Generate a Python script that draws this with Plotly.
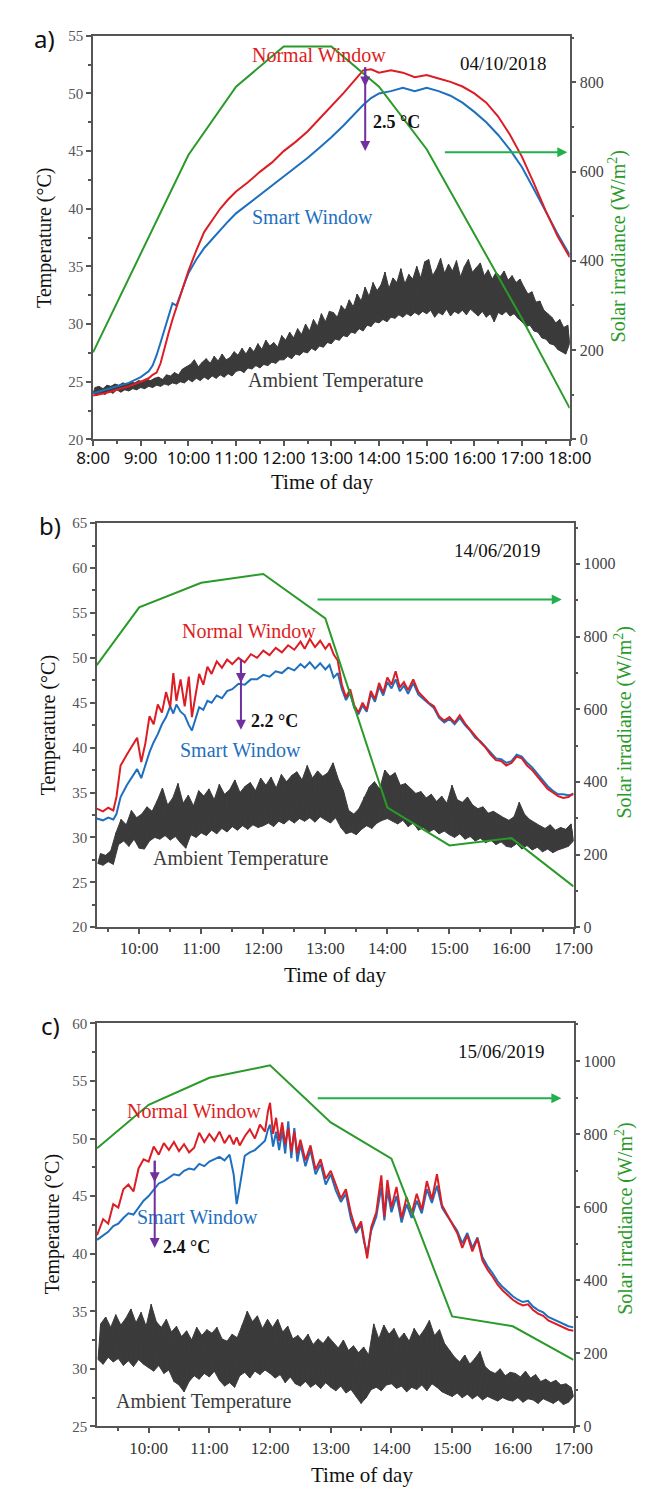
import plotly.graph_objects as go

# ---------------- DATA ----------------
# Panel a) 04/10/2018
a_date = "04/10/2018"
a_xticks = ["8:00", "9:00", "10:00", "11:00", "12:00", "13:00", "14:00", "15:00", "16:00", "17:00", "18:00"]
a_time = ["08:00", "08:15", "08:30", "08:45", "09:00", "09:10", "09:15", "09:20", "09:25", "09:30",
          "09:35", "09:40", "09:45", "09:50", "09:55", "10:00", "10:10", "10:20", "10:30", "10:40",
          "10:50", "11:00", "11:15", "11:30", "11:45", "12:00", "12:15", "12:30", "12:45", "13:00",
          "13:15", "13:30", "13:40", "13:50", "14:00", "14:15", "14:30", "14:45", "15:00", "15:15",
          "15:30", "15:45", "16:00", "16:15", "16:30", "16:45", "17:00", "17:15", "17:30", "17:45", "18:00"]
a_normal = [23.8, 24.0, 24.3, 24.6, 25.0, 25.3, 25.6, 25.8, 26.6, 28.0,
            29.2, 30.4, 31.5, 32.6, 33.6, 34.6, 36.4, 38.0, 39.0, 40.0,
            40.8, 41.5, 42.3, 43.2, 44.0, 45.0, 45.8, 46.7, 47.8, 48.9,
            50.0, 51.2, 52.0, 52.1, 51.8, 52.0, 51.8, 51.4, 51.6, 51.3,
            51.0, 50.6, 50.0, 49.2, 48.0, 46.4, 44.5, 42.2, 39.8, 37.6, 35.8]
a_smart = [24.0, 24.3, 24.6, 24.9, 25.4, 25.9, 26.4, 27.3, 28.4, 29.5,
           30.6, 31.8, 31.6, 32.6, 33.5, 34.4, 35.6, 36.6, 37.4, 38.2,
           38.9, 39.6, 40.4, 41.2, 42.0, 42.8, 43.6, 44.4, 45.3, 46.2,
           47.2, 48.3, 49.0, 49.6, 50.0, 50.2, 50.5, 50.2, 50.5, 50.2,
           49.8, 49.2, 48.4, 47.5, 46.4, 45.1, 43.6, 41.7, 39.7, 37.8, 36.0]
# ambient: readings every 2.5 minutes, alternating low / high (one row per hour)
a_amb_start = "08:00"
a_ambient = [
    24.0, 24.5, 23.8, 24.6, 24.1, 24.4, 23.9, 24.7, 24.2, 24.6, 24.0, 24.8,
    24.3, 24.7, 24.1, 24.9, 24.3, 24.8, 24.2, 25.0, 24.4, 24.9, 24.3, 25.1,
    24.5, 25.0, 24.4, 25.2, 24.6, 25.1, 24.5, 25.3, 24.7, 25.4, 24.6, 25.2,
    24.8, 25.6, 24.7, 25.5, 24.9, 25.8, 24.8, 25.6, 25.0, 26.1, 24.9, 26.3,
    25.2, 26.5, 25.0, 26.9, 25.3, 26.3, 25.1, 26.7, 25.4, 27.0, 25.2, 26.6,
    25.5, 27.2, 25.3, 26.8, 25.6, 27.4, 25.4, 26.9, 25.7, 27.1, 25.5, 27.6,
    25.9, 27.3, 26.0, 27.9, 25.8, 27.4, 26.2, 28.0, 26.1, 27.6, 26.4, 28.3,
    26.2, 27.8, 26.5, 28.6, 26.4, 28.1, 26.7, 28.4, 26.6, 28.0, 26.9, 29.0,
    26.9, 28.6, 27.2, 29.3, 27.0, 28.8, 27.4, 29.6, 27.3, 29.1, 27.6, 30.0,
    27.5, 29.4, 27.9, 30.4, 27.7, 29.8, 28.1, 30.9, 28.0, 30.2, 28.4, 31.1,
    28.3, 31.0, 28.7, 30.6, 28.6, 31.6, 29.0, 31.2, 28.9, 32.1, 29.3, 31.5,
    29.2, 32.6, 29.6, 32.0, 29.4, 33.2, 29.9, 32.4, 29.8, 33.6, 30.2, 32.9,
    30.1, 33.4, 30.4, 34.5, 30.2, 33.1, 30.6, 34.0, 30.5, 33.6, 30.8, 34.8,
    30.6, 33.5, 30.9, 34.3, 30.7, 33.9, 31.0, 35.0, 30.8, 34.0, 31.1, 35.4,
    30.9, 35.6, 31.2, 34.2, 30.6, 34.8, 31.0, 35.7, 30.8, 34.4, 31.3, 35.2,
    30.7, 34.6, 31.1, 35.5, 30.9, 34.1, 31.2, 35.0, 30.8, 35.6, 31.3, 34.5,
    31.0, 34.9, 30.7, 35.3, 31.1, 34.2, 30.6, 34.7, 30.9, 33.9, 30.2, 34.5,
    31.0, 34.1, 30.8, 34.6, 31.1, 33.8, 30.7, 34.2, 30.9, 33.6, 30.5, 33.9,
    30.2, 33.2, 29.8, 32.6, 29.9, 32.8, 29.4, 31.9, 29.3, 32.0, 28.8, 31.2,
    28.7, 30.9, 28.3, 30.6, 28.2, 30.1, 27.8, 30.4, 27.6, 29.7, 27.4, 29.9,
    28.3]
a_solar_time = ["08:00", "09:00", "10:00", "11:00", "12:00", "13:00", "14:00", "15:00", "16:00", "17:00", "18:00"]
a_solar = [195, 416, 637, 790, 880, 880, 790, 650, 460, 270, 70]

# Panel b) 14/06/2019
b_date = "14/06/2019"
b_xticks = ["10:00", "11:00", "12:00", "13:00", "14:00", "15:00", "16:00", "17:00"]
b_time = ["09:19", "09:25", "09:30", "09:35", "09:38", "09:42", "09:48", "09:54", "09:58", "10:02",
          "10:06", "10:10", "10:14", "10:18", "10:22", "10:26", "10:30", "10:33", "10:36", "10:40",
          "10:44", "10:48", "10:51", "10:54", "10:58", "11:02", "11:06", "11:10", "11:15", "11:20",
          "11:25", "11:30", "11:36", "11:42", "11:48", "11:54", "12:00", "12:06", "12:12", "12:18",
          "12:24", "12:30", "12:36", "12:40", "12:45", "12:50", "12:55", "13:00", "13:04", "13:08",
          "13:12", "13:16", "13:20", "13:24", "13:28", "13:32", "13:36", "13:40", "13:44", "13:48",
          "13:52", "13:56", "14:00", "14:04", "14:08", "14:12", "14:16", "14:20", "14:25", "14:30",
          "14:35", "14:40", "14:45", "14:50", "14:55", "15:00", "15:05", "15:10", "15:15", "15:20",
          "15:25", "15:30", "15:35", "15:40", "15:45", "15:50", "15:55", "16:00", "16:05", "16:10",
          "16:15", "16:20", "16:25", "16:30", "16:35", "16:40", "16:45", "16:50", "16:55", "17:00"]
b_normal = [33.2, 32.9, 33.3, 33.0, 34.5, 38.0, 39.2, 40.3, 41.1, 38.4,
            40.5, 43.5, 42.6, 44.8, 43.9, 46.2, 44.5, 48.3, 45.2, 47.6,
            44.6, 47.9, 43.4, 45.5, 48.2, 47.0, 49.0, 48.2, 49.6, 48.9,
            49.8, 49.3, 50.0, 49.5, 50.4, 50.0, 50.8, 50.3, 51.1, 50.6,
            51.4, 50.9, 51.8, 51.0, 52.1, 51.2, 51.9, 51.0, 51.6, 50.4,
            49.7, 47.0, 45.6, 46.5, 44.7, 43.9, 45.0, 44.2, 46.3, 45.4,
            47.2, 46.1, 47.8, 47.0, 48.5, 46.7, 47.3, 46.4, 47.6, 46.2,
            45.6, 45.0, 44.6, 43.5, 43.0, 43.4, 42.8, 43.6, 42.7, 42.0,
            41.2, 40.6, 40.0, 39.2, 38.6, 38.5, 38.0, 38.3, 39.0, 38.8,
            38.0, 37.5, 36.8, 36.1, 35.4, 35.0, 34.6, 34.4, 34.5, 34.9]
b_smart = [32.1, 31.9, 32.2, 32.0, 32.6, 34.5, 35.8, 36.8, 37.6, 36.6,
           38.0, 39.5, 40.6, 41.5, 42.6, 43.4, 44.6, 43.8, 44.8, 44.0,
           43.6, 42.5, 41.9, 43.0, 44.5, 44.2, 45.2, 45.0, 45.8, 45.5,
           46.3, 46.5, 47.1, 47.0, 47.6, 47.6, 48.1, 47.9, 48.5, 48.3,
           48.9, 48.6, 49.3, 48.9, 49.5, 48.8, 49.4, 48.7, 49.2, 47.8,
           48.3, 46.5, 45.3, 46.1, 44.4, 43.7, 44.7, 44.0, 46.0, 45.1,
           46.8, 45.8, 47.3, 46.6, 47.6, 46.3, 46.9, 46.0, 47.2, 45.9,
           45.4, 44.8, 44.4, 43.3, 42.8, 43.2, 42.6, 43.3, 42.5, 41.9,
           41.1, 40.7, 40.1, 39.4, 38.8, 38.7, 38.3, 38.5, 39.2, 39.0,
           38.3, 37.8, 37.1, 36.4, 35.7, 35.2, 34.8, 34.8, 34.7, 34.8]
b_amb_start = "09:20"
b_ambient = [
    27.1, 28.2, 26.9, 28.0, 27.3, 28.5, 27.0, 30.5,
    29.2, 32.0, 29.6, 31.4, 29.0, 33.0, 29.8, 32.2,
    28.8, 32.6, 28.7, 33.4, 29.6, 32.9, 30.0, 34.1, 29.8, 35.5, 30.2, 33.6,
    29.7, 34.4, 30.1, 36.0, 29.4, 33.8, 28.8, 34.7, 30.3, 33.5, 30.0, 35.2,
    30.5, 34.6, 30.2, 35.4, 30.8, 34.2, 30.4, 35.9, 31.0, 34.8, 30.6, 35.3,
    31.2, 36.4, 30.8, 35.0, 31.3, 35.7, 30.9, 36.1, 31.4, 35.2, 31.1, 36.6,
    31.3, 35.8, 31.6, 36.7, 31.2, 35.5, 31.8, 37.0, 31.5, 36.2, 32.0, 36.9,
    31.6, 37.3, 32.1, 36.4, 31.8, 38.0, 32.2, 36.6, 31.7, 37.4, 32.3, 36.8,
    32.0, 37.2, 31.6, 38.3, 32.2, 36.5, 31.1, 35.2, 30.4, 33.0, 30.6, 32.6,
    30.3, 33.2, 30.9, 34.5, 31.3, 35.6, 31.0, 36.2, 31.6, 35.4, 31.9, 37.5,
    32.1, 36.8, 31.8, 37.2, 31.5, 35.8, 31.9, 36.0, 31.2, 35.4, 31.6, 34.9,
    30.8, 35.1, 31.1, 34.4, 30.6, 34.8, 30.9, 34.0, 30.4, 34.6, 30.7, 33.8,
    30.3, 35.8, 30.0, 34.2, 30.4, 33.9, 29.8, 34.5, 30.1, 33.6, 29.6, 33.2,
    29.9, 33.4, 29.4, 32.7, 29.7, 32.9, 29.2, 32.5, 29.5, 32.2, 29.0, 31.9,
    28.9, 32.3, 29.3, 33.9, 28.7, 32.6, 29.1, 32.0, 28.6, 31.6, 28.9, 31.3,
    28.4, 31.0, 28.7, 31.4, 28.3, 30.8, 28.6, 31.1, 28.8, 30.9, 29.0, 31.5,
    29.6]
b_solar_time = ["09:19", "10:00", "11:00", "12:00", "13:00", "14:00", "15:00", "16:00", "17:00"]
b_solar = [721, 880, 948, 972, 850, 329, 225, 245, 112]

# Panel c) 15/06/2019
c_date = "15/06/2019"
c_xticks = ["10:00", "11:00", "12:00", "13:00", "14:00", "15:00", "16:00", "17:00"]
c_time = ["09:09", "09:15", "09:20", "09:25", "09:30", "09:35", "09:40", "09:45", "09:50", "09:55",
          "10:00", "10:05", "10:10", "10:15", "10:20", "10:25", "10:30", "10:35", "10:40", "10:45",
          "10:50", "10:55", "11:00", "11:05", "11:10", "11:15", "11:20", "11:24", "11:27", "11:30",
          "11:35", "11:40", "11:45", "11:50", "11:55", "11:58", "12:00", "12:03", "12:06", "12:09",
          "12:12", "12:15", "12:18", "12:21", "12:24", "12:27", "12:30", "12:35", "12:40", "12:45",
          "12:50", "12:55", "13:00", "13:05", "13:10", "13:15", "13:20", "13:25", "13:30", "13:33",
          "13:36", "13:40", "13:45", "13:50", "13:53", "13:56", "14:00", "14:05", "14:10", "14:15",
          "14:20", "14:25", "14:30", "14:35", "14:40", "14:45", "14:50", "14:55", "15:00", "15:05",
          "15:10", "15:15", "15:20", "15:25", "15:30", "15:35", "15:40", "15:45", "15:50", "15:55",
          "16:00", "16:05", "16:10", "16:15", "16:20", "16:25", "16:30", "16:35", "16:40", "16:45",
          "16:50", "16:55", "17:00"]
c_normal = [41.6, 43.0, 42.6, 44.3, 44.0, 45.6, 46.0, 45.4, 47.4, 48.2,
            48.0, 49.3, 48.6, 49.6, 49.0, 49.7, 48.9, 49.5, 48.8, 49.2,
            50.5, 49.7, 50.4, 49.8, 50.6, 49.6, 50.3, 49.5, 50.1, 49.4,
            50.2, 50.8, 50.0, 51.2, 50.6, 52.4, 53.1, 50.4, 51.8, 49.8,
            51.4, 49.5, 50.9, 48.9, 50.6, 48.7, 49.9, 48.1, 49.4, 47.3,
            48.2, 46.5, 47.2, 46.0, 44.8, 45.6, 43.5, 42.0, 42.8, 41.2,
            39.6, 42.3, 43.6, 46.8, 43.2, 46.4, 44.0, 45.8, 43.1, 44.9,
            43.5, 45.2, 43.8, 46.3, 44.7, 46.9, 44.2, 43.4, 42.6, 41.8,
            40.5, 41.6, 40.2, 41.3, 39.4, 38.6, 38.0, 37.3, 36.8, 36.4,
            36.0, 35.7, 35.5, 35.6, 35.1, 34.8, 34.6, 34.2, 34.0, 33.8,
            33.6, 33.4, 33.3]
c_smart = [41.2, 41.6, 41.9, 42.4, 42.6, 43.1, 43.5, 43.4, 44.0, 44.6,
           45.0, 45.6, 46.1, 46.3, 46.6, 46.9, 46.8, 47.2, 47.4, 47.3,
           47.8, 47.6, 48.0, 48.2, 48.4, 48.1, 48.6, 46.9, 44.3, 45.8,
           48.5, 48.8, 49.0, 49.4, 49.8, 50.8, 51.2, 49.3, 50.6, 49.0,
           50.7, 48.7, 51.5, 48.3, 50.9, 48.0, 49.5, 47.6, 49.0, 46.9,
           47.8, 46.0, 46.9, 45.5, 44.5, 45.2, 43.0, 41.8, 42.5, 41.0,
           40.0, 42.0, 43.2, 45.8, 42.9, 45.5, 43.6, 45.0, 42.7, 44.3,
           43.1, 44.6, 43.5, 45.6, 44.4, 45.9, 44.0, 43.3, 42.7, 42.0,
           40.9, 41.8, 40.5, 41.4, 39.7, 38.9, 38.3, 37.6, 37.1, 36.7,
           36.3, 36.0, 35.8, 35.9, 35.4, 35.1, 34.9, 34.5, 34.3, 34.1,
           33.9, 33.7, 33.6]
c_amb_start = "09:10"
c_ambient = [
    30.8, 33.9, 30.4, 34.5, 31.0, 33.6, 30.6, 34.7, 30.9, 33.8,
    30.3, 34.4, 30.7, 35.2, 30.2, 34.0, 30.8, 34.9, 30.4, 33.7,
    30.1, 35.6, 29.8, 34.1, 30.3, 33.6, 29.6, 34.3, 29.9, 33.2, 28.9, 33.7,
    28.6, 32.8, 28.0, 33.3, 28.9, 32.5, 29.4, 33.6, 29.1, 32.9, 29.6, 33.4,
    29.3, 33.1, 29.8, 33.6, 29.0, 32.6, 28.5, 32.4, 28.8, 33.0, 28.4, 32.7,
    29.4, 33.8, 29.7, 35.0, 29.2, 34.1, 29.8, 34.6, 29.5, 33.5, 29.9, 34.3,
    29.6, 33.6, 29.2, 34.3, 29.5, 33.2, 28.8, 33.7, 29.3, 32.6, 28.7, 32.9,
    28.5, 32.4, 28.9, 33.0, 28.4, 32.1, 28.7, 32.6, 28.3, 32.2, 28.8, 32.8,
    28.4, 32.3, 28.1, 31.8, 28.5, 32.5, 27.9, 31.6, 28.2, 32.0, 27.6, 31.4,
    27.0, 31.9, 27.5, 31.2, 28.2, 33.9, 28.4, 32.6, 28.1, 33.8, 28.6, 33.0,
    28.7, 33.5, 28.3, 32.6, 28.5, 33.1, 28.0, 32.4, 28.4, 33.5, 28.2, 32.8,
    28.6, 33.4, 28.1, 34.2, 28.7, 32.9, 28.4, 33.4, 28.0, 32.2, 27.8, 31.6,
    27.6, 31.0, 27.9, 30.6, 27.5, 31.2, 27.8, 30.4, 27.4, 30.9, 27.7, 31.5,
    27.3, 30.2, 27.6, 29.8, 27.4, 29.6, 27.2, 30.0, 27.5, 29.4, 27.3, 29.7,
    27.2, 29.6, 27.5, 29.3, 27.1, 29.8, 27.4, 29.2, 27.3, 29.5, 27.0, 28.9,
    27.4, 29.1, 27.2, 28.8, 27.0, 29.0, 27.3, 28.6, 26.9, 28.7, 27.1, 28.4,
    27.6]
c_solar_time = ["09:09", "10:00", "11:00", "12:00", "13:00", "14:00", "15:00", "16:00", "17:00"]
c_solar = [761, 880, 954, 988, 832, 733, 301, 274, 182]

AMB_STEP_MIN = 2.5

# ---------------- HELPERS ----------------
def hrs(s):
    h, m = s.split(":")
    return int(h) + int(m) / 60.0

def amb_times(start, n):
    t0 = hrs(start)
    return [t0 + i * AMB_STEP_MIN / 60.0 for i in range(n)]

W, H = 649, 1489
def fx(p):
    return p / W
def fy(p):
    return 1 - p / H

RED = "#dc1e24"
BLUE = "#1f6fbf"
GREY = "#3b3b3b"
GREEN = "#2a9a2a"
ARROW_GREEN = "#22b04c"
PURPLE = "#7030a0"
AX = "#555555"
SERIF = "Liberation Serif"

fig = go.Figure()

panels = [
    dict(xa="x", ya="y", ya2="y2", time=a_time, normal=a_normal, smart=a_smart,
         amb=a_ambient, amb_start=a_amb_start, st=a_solar_time, sv=a_solar),
    dict(xa="x2", ya="y3", ya2="y4", time=b_time, normal=b_normal, smart=b_smart,
         amb=b_ambient, amb_start=b_amb_start, st=b_solar_time, sv=b_solar),
    dict(xa="x3", ya="y5", ya2="y6", time=c_time, normal=c_normal, smart=c_smart,
         amb=c_ambient, amb_start=c_amb_start, st=c_solar_time, sv=c_solar),
]

for p in panels:
    at = amb_times(p["amb_start"], len(p["amb"]))
    av = p["amb"]
    # band outline: high readings left->right, then low readings right->left
    hi_t, hi_v = at[1::2], av[1::2]
    lo_t, lo_v = at[0::2], av[0::2]
    fig.add_trace(go.Scatter(x=hi_t + lo_t[::-1], y=hi_v + lo_v[::-1], mode="lines",
                             fill="toself", fillcolor=GREY, line=dict(color=GREY, width=1),
                             xaxis=p["xa"], yaxis=p["ya"], name="Ambient Temperature"))
    fig.add_trace(go.Scatter(x=at, y=av, mode="lines", line=dict(color=GREY, width=1),
                             xaxis=p["xa"], yaxis=p["ya"], name="Ambient Temperature"))
    tt = [hrs(s) for s in p["time"]]
    fig.add_trace(go.Scatter(x=tt, y=p["smart"], mode="lines", line=dict(color=BLUE, width=2),
                             xaxis=p["xa"], yaxis=p["ya"], name="Smart Window"))
    fig.add_trace(go.Scatter(x=tt, y=p["normal"], mode="lines", line=dict(color=RED, width=2),
                             xaxis=p["xa"], yaxis=p["ya"], name="Normal Window"))
    fig.add_trace(go.Scatter(x=[hrs(s) for s in p["st"]], y=p["sv"], mode="lines",
                             line=dict(color=GREEN, width=2), xaxis=p["xa"], yaxis=p["ya2"],
                             name="Solar irradiance"))

def xaxis_cfg(dom, rng, ticks, font, standoff):
    vals = [hrs(t) for t in ticks]
    minor = [v - 0.5 for v in vals if v - 0.5 >= rng[0]]
    return dict(domain=dom, range=rng, tickmode="array", tickvals=vals, ticktext=ticks,
                ticks="outside", ticklen=5, tickwidth=1.5, tickcolor=AX,
                showline=True, linecolor=AX, linewidth=1.5, mirror=True,
                showgrid=False, zeroline=False, tickfont=font, ticklabelstandoff=standoff,
                minor=dict(tickmode="array", tickvals=minor, ticks="outside", ticklen=3,
                           tickwidth=1.5, tickcolor=AX))

def ylcfg(dom, rng, anchor):
    return dict(domain=dom, range=rng, anchor=anchor, dtick=5, tick0=0, ticks="outside",
                ticklen=5, tickwidth=1.5, tickcolor=AX, showline=True, linecolor=AX,
                linewidth=1.5, mirror=True, showgrid=False, zeroline=False,
                tickfont=dict(family=SERIF, size=15, color="#555555"),
                minor=dict(dtick=2.5, tick0=0, ticks="outside", ticklen=3, tickwidth=1.5,
                           tickcolor=AX))

def yrcfg(rng, anchor, over):
    return dict(range=rng, anchor=anchor, overlaying=over, side="right", dtick=200, tick0=0,
                ticks="outside", ticklen=5, tickwidth=1.5, tickcolor=AX, showline=True,
                linecolor=AX, linewidth=1.5, showgrid=False, zeroline=False,
                tickfont=dict(family=SERIF, size=16, color="#444444"),
                minor=dict(dtick=100, tick0=0, ticks="outside", ticklen=3, tickwidth=1.5,
                           tickcolor=AX))

sans_tick = dict(family="Noto Sans", size=17, color="#111111")
serif_tick = dict(family=SERIF, size=17, color="#333333")

fig.update_layout(
    width=W, height=H, margin=dict(l=0, r=0, t=0, b=0),
    paper_bgcolor="white", plot_bgcolor="white", showlegend=False,
    xaxis=xaxis_cfg([fx(72.4), fx(579.5)], [8, 18], a_xticks, sans_tick, -3) | dict(anchor="y"),
    yaxis=ylcfg([fy(428.3), fy(20)], [20, 55], "x"),
    yaxis2=yrcfg([0, 904], "x", "y"),
    xaxis2=xaxis_cfg([fx(76.6), fx(583.6)], [9.32, 17], b_xticks, serif_tick, 0) | dict(anchor="y3"),
    yaxis3=ylcfg([fy(921.7), fy(513)], [20, 65], "x2"),
    yaxis4=yrcfg([0, 1112], "x2", "y3"),
    xaxis3=xaxis_cfg([fx(76.6), fx(583.6)], [9.149, 17], c_xticks, serif_tick, 0) | dict(anchor="y5"),
    yaxis5=ylcfg([fy(1426.7), fy(1019)], [25, 60], "x3"),
    yaxis6=yrcfg([0, 1103], "x3", "y5"),
)

ann = []

def txt(x, y, text, xref, yref, color, size=20, xanchor="center", bold=False, angle=0, family=SERIF):
    ann.append(dict(x=x, y=y, text=("<b>%s</b>" % text) if bold else text, xref=xref, yref=yref,
                    showarrow=False, xanchor=xanchor, yanchor="middle", textangle=angle,
                    font=dict(family=family, size=size, color=color)))

def arrow(x0, y0, x1, y1, xref, yref, color, width=2):
    ann.append(dict(x=x1, y=y1, ax=x0, ay=y0, xref=xref, yref=yref, axref=xref, ayref=yref,
                    text="", showarrow=True, arrowhead=2, arrowsize=1, arrowwidth=width,
                    arrowcolor=color))

# Panel a annotations
txt(12.74, 53.3, "Normal Window", "x", "y", RED)
txt(16.61, 52.6, a_date, "x", "y", "#111111", size=19)
txt(12.61, 39.3, "Smart Window", "x", "y", BLUE)
txt(13.1, 25.1, "Ambient Temperature", "x", "y", GREY)
arrow(15.35, 44.9, 17.95, 44.9, "x", "y", ARROW_GREEN)
arrow(13.71, 52.4, 13.71, 45.0, "x", "y", PURPLE)
arrow(13.71, 52.4, 13.71, 50.6, "x", "y", PURPLE)
txt(13.83, 47.5, "2.5 °C", "x", "y", "#111111", size=18, xanchor="left", bold=True)

# Panel b annotations
txt(11.77, 53.0, "Normal Window", "x2", "y3", RED)
txt(15.78, 62.0, b_date, "x2", "y3", "#111111", size=19)
txt(11.64, 39.7, "Smart Window", "x2", "y3", BLUE)
txt(11.64, 27.6, "Ambient Temperature", "x2", "y3", GREY)
arrow(12.85, 56.5, 16.81, 56.5, "x2", "y3", ARROW_GREEN)
arrow(11.64, 50.0, 11.64, 42.0, "x2", "y3", PURPLE)
arrow(11.64, 50.0, 11.64, 47.2, "x2", "y3", PURPLE)
txt(11.77, 43.0, "2.2 °C", "x2", "y3", "#111111", size=18, xanchor="left", bold=True)

# Panel c annotations
txt(10.75, 52.4, "Normal Window", "x3", "y5", RED)
txt(15.81, 57.6, c_date, "x3", "y5", "#111111", size=19)
txt(10.81, 43.2, "Smart Window", "x3", "y5", BLUE)
txt(10.91, 27.2, "Ambient Temperature", "x3", "y5", GREY)
arrow(12.76, 53.5, 16.80, 53.5, "x3", "y5", ARROW_GREEN)
arrow(10.1, 48.2, 10.1, 40.5, "x3", "y5", PURPLE)
arrow(10.1, 48.2, 10.1, 46.2, "x3", "y5", PURPLE)
txt(10.21, 40.6, "2.4 °C", "x3", "y5", "#111111", size=18, xanchor="left", bold=True)

# Axis titles and panel letters (paper coordinates)
for (lx, ly, rx, ry, bx, by, letter, gx, gy) in [
        (20.7, 224, 630, 233, 316, 471, "a)", 21, 23),
        (25, 717, 637, 715, 330, 970, "b)", 27, 515),
        (29, 1222, 637, 1217, 359, 1476, "c)", 27, 1021)]:
    txt(fx(lx), fy(ly), "Temperature (°C)", "paper", "paper", "#111111", size=20, angle=-90)
    txt(fx(rx), fy(ry), "Solar irradiance (W/m<sup>2</sup>)", "paper", "paper", GREEN, size=20, angle=-90)
    txt(fx(bx), fy(by), "Time of day", "paper", "paper", "#111111", size=21)
    txt(fx(gx), fy(gy), letter, "paper", "paper", "#111111", size=24, family="Noto Sans")

fig.update_layout(annotations=ann)
fig.write_html("out.html")
